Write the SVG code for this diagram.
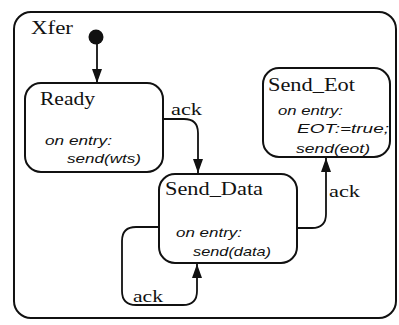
<svg xmlns="http://www.w3.org/2000/svg" width="399" height="325" viewBox="0 0 399 325">
  <style>
    .box { fill: none; stroke: #111; stroke-width: 2; }
    .wire { fill: none; stroke: #111; stroke-width: 1.8; }
    .title { font-family: "Liberation Serif", "DejaVu Serif", serif; font-size: 18px; fill: #111; }
    .act { font-family: "Liberation Sans", sans-serif; font-style: italic; font-size: 13.5px; fill: #111; }
    .lbl { font-family: "Liberation Serif", "DejaVu Serif", serif; font-size: 17px; fill: #111; }
  </style>
  <defs>
    <!-- filled triangular head, tip at the path end -->
    <marker id="arrow" markerUnits="userSpaceOnUse" markerWidth="14" markerHeight="10" viewBox="0 0 14 10" refX="14" refY="5" orient="auto">
      <path d="M0,0 L14,5 L0,10 Z" fill="#111"/>
    </marker>
  </defs>
  <rect width="399" height="325" fill="#fff"/>

  <!-- enclosing superstate -->
  <g id="xfer">
    <rect class="box" x="14" y="12" width="382" height="306" rx="17"/>
    <text class="title" x="31" y="34" textLength="42" lengthAdjust="spacingAndGlyphs">Xfer</text>
  </g>

  <g id="initial">
    <circle cx="96" cy="37" r="7.5" fill="#111"/>
  </g>

  <g id="ready">
    <rect class="box" x="25" y="83" width="138" height="89" rx="16"/>
    <text class="title" x="40" y="105" textLength="55" lengthAdjust="spacingAndGlyphs">Ready</text>
    <text class="act" x="45" y="145" textLength="67" lengthAdjust="spacingAndGlyphs">on entry:</text>
    <text class="act" x="67" y="163" textLength="74" lengthAdjust="spacingAndGlyphs">send(wts)</text>
  </g>

  <g id="send_data">
    <rect class="box" x="159" y="174" width="138" height="89" rx="16"/>
    <text class="title" x="165" y="195" textLength="98" lengthAdjust="spacingAndGlyphs">Send_Data</text>
    <text class="act" x="176" y="237" textLength="66" lengthAdjust="spacingAndGlyphs">on entry:</text>
    <text class="act" x="193" y="256" textLength="78" lengthAdjust="spacingAndGlyphs">send(data)</text>
  </g>

  <g id="send_eot">
    <rect class="box" x="263" y="68" width="127" height="89" rx="16"/>
    <text class="title" x="268" y="91" textLength="87" lengthAdjust="spacingAndGlyphs">Send_Eot</text>
    <text class="act" x="278" y="115" textLength="65" lengthAdjust="spacingAndGlyphs">on entry:</text>
    <text class="act" x="297" y="133" textLength="92" lengthAdjust="spacingAndGlyphs">EOT:=true;</text>
    <text class="act" x="296" y="153" textLength="74" lengthAdjust="spacingAndGlyphs">send(eot)</text>
  </g>

  <!-- transitions -->
  <g id="connectors">
    <path class="wire" d="M97,44 V83" marker-end="url(#arrow)"/>
    <path class="wire" d="M163,119 H184 Q198,119 198,133 V173" marker-end="url(#arrow)"/>
    <path class="wire" d="M159,227 H136 Q122,227 122,241 V291 Q122,305 136,305 H183 Q197,305 197,291 V264" marker-end="url(#arrow)"/>
    <path class="wire" d="M297,228 H312 Q326,228 326,214 V158" marker-end="url(#arrow)"/>
    <text class="lbl" x="171" y="115" textLength="31" lengthAdjust="spacingAndGlyphs">ack</text>
    <text class="lbl" x="133" y="302" textLength="30" lengthAdjust="spacingAndGlyphs">ack</text>
    <text class="lbl" x="329" y="197" textLength="31" lengthAdjust="spacingAndGlyphs">ack</text>
  </g>
</svg>
